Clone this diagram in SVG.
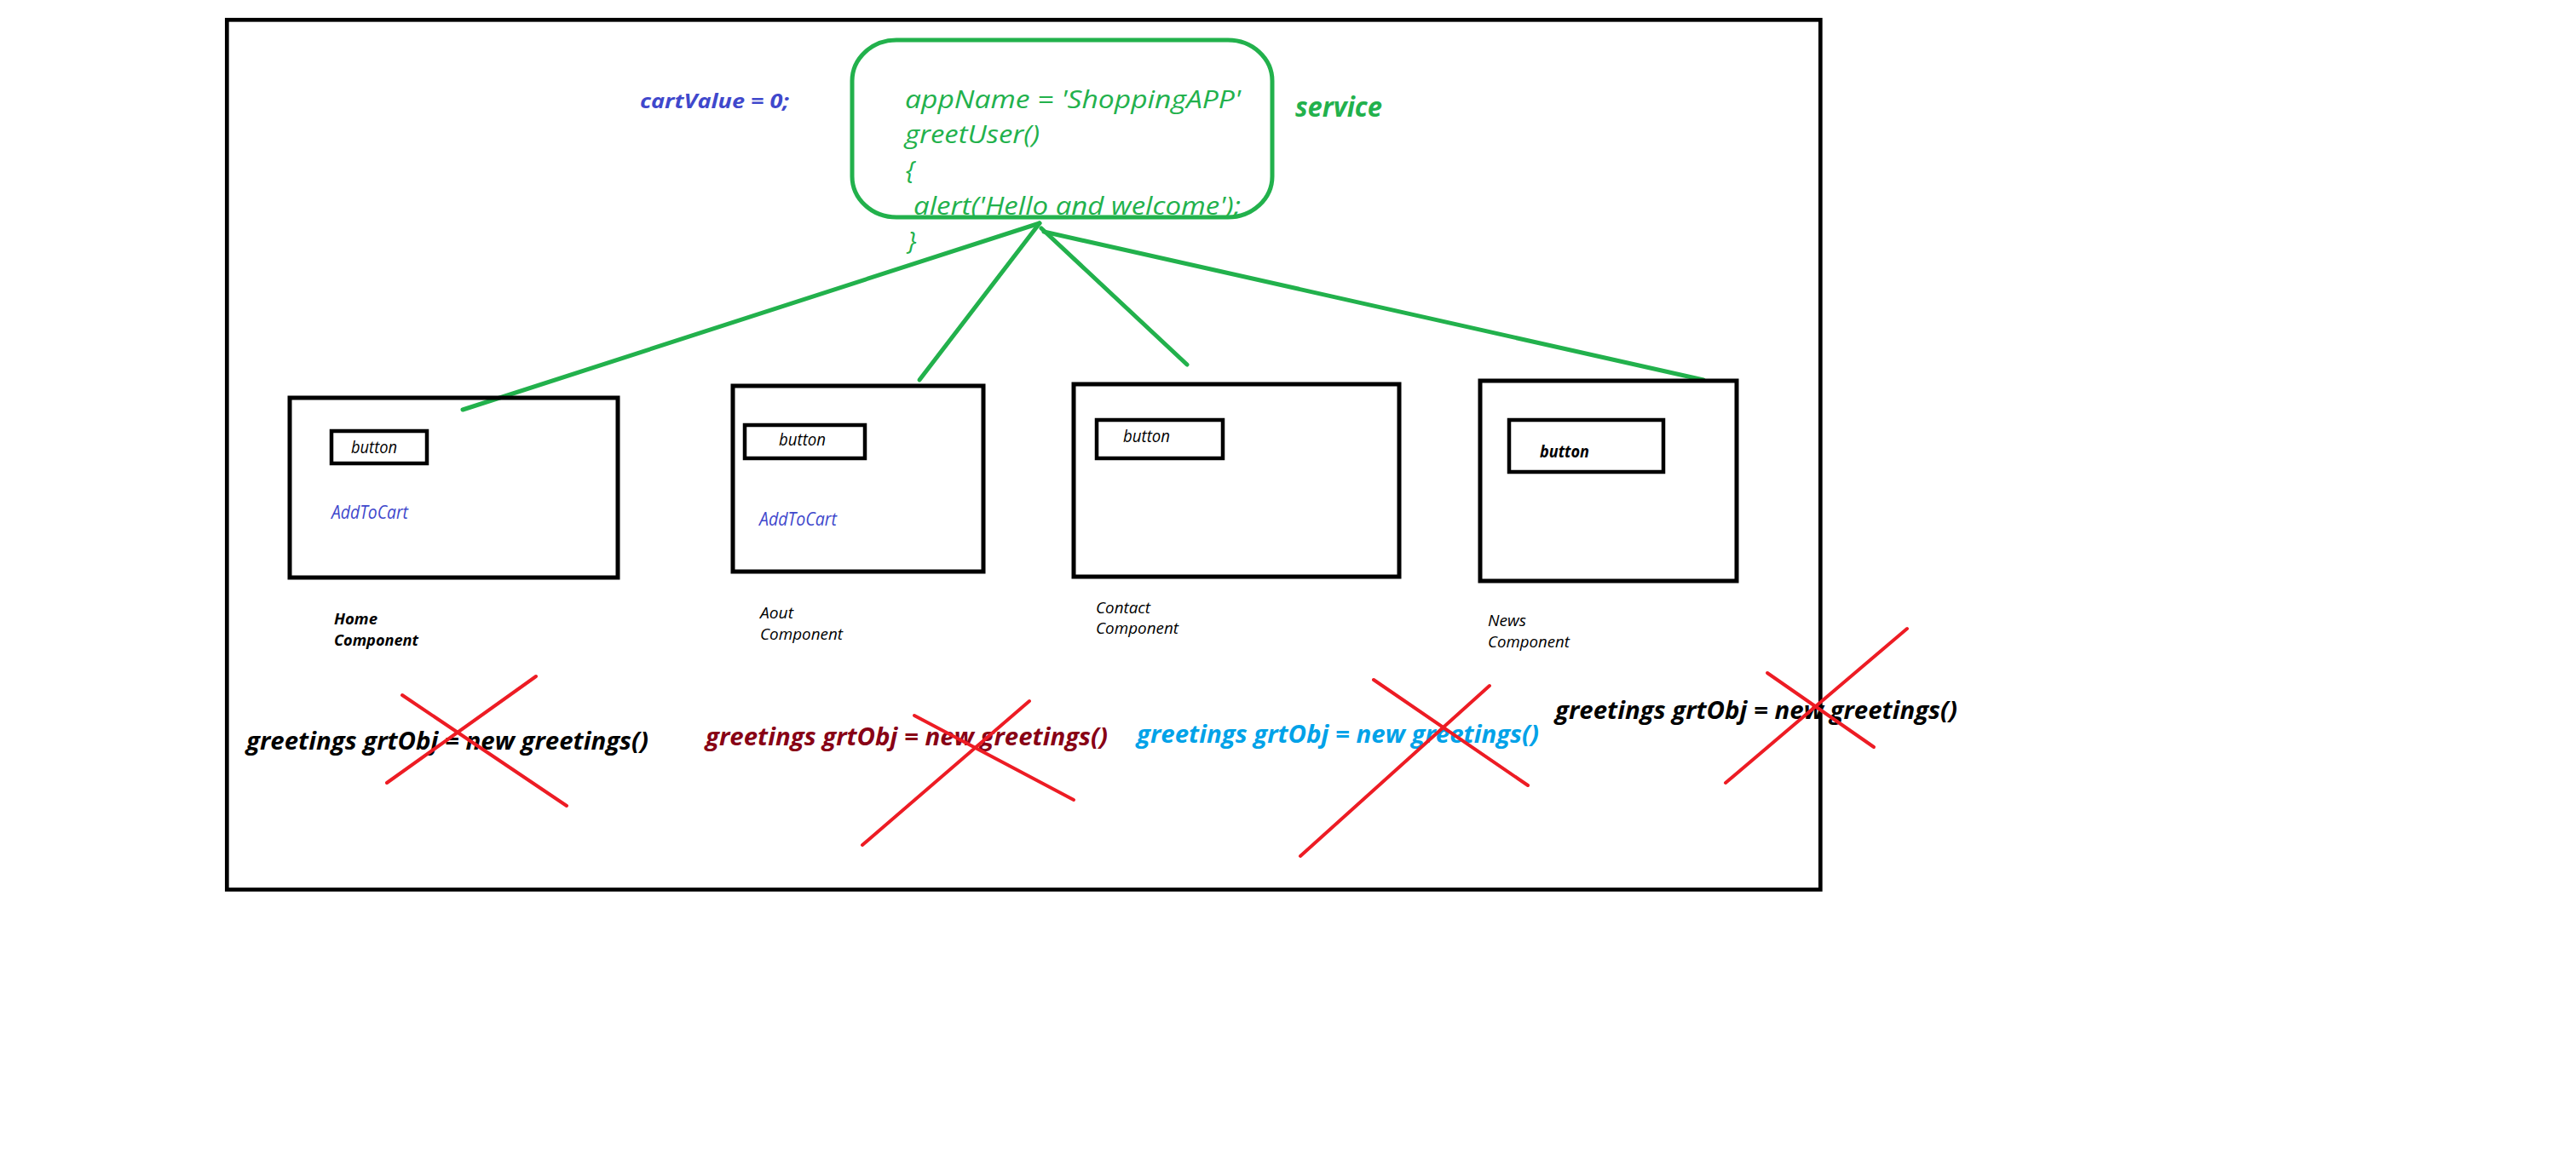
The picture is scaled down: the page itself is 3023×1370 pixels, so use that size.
<svg xmlns="http://www.w3.org/2000/svg" width="3023" height="1370" viewBox="0 0 3023 1370">
<style>
text{font-family:"Open Sans","Noto Sans","DejaVu Sans",sans-serif;font-style:italic}
.b{font-weight:bold}
.g{fill:#22b14c}
.blue{fill:#3f48cc}
.box{fill:none;stroke:#000;stroke-width:5}
.btn{fill:none;stroke:#000;stroke-width:4.5}
.conn{stroke:#22b14c;stroke-width:5;stroke-linecap:round;fill:none}
.x{stroke:#ed1c24;stroke-width:4;stroke-linecap:round}
.code{font-size:30px}
.btxt{font-size:20px;fill:#000}
.lbl{font-size:18px;fill:#000}
.atc{font-size:21px}
.gr{font-size:28px;font-weight:bold}
</style>
<rect width="3023" height="1370" fill="#fff"/>
<rect id="frame" x="266.3" y="23.3" width="1870" height="1021" fill="none" stroke="#000" stroke-width="4.7"/>

<g id="service">
<rect x="1000" y="47" width="493" height="208" rx="52" ry="48" fill="none" stroke="#22b14c" stroke-width="5"/>
<text class="code g" x="1062" y="127" textLength="394" lengthAdjust="spacingAndGlyphs">appName = 'ShoppingAPP'</text>
<text class="code g" x="1062" y="168" textLength="158" lengthAdjust="spacingAndGlyphs">greetUser()</text>
<text class="code g" x="1063" y="210">{</text>
<text class="code g" x="1072" y="252" textLength="384" lengthAdjust="spacingAndGlyphs">alert('Hello and welcome');</text>
<text class="code g" x="1065" y="293">}</text>
</g>
<g id="service-label"><text class="b g" x="1520" y="137" font-size="32" textLength="102" lengthAdjust="spacingAndGlyphs">service</text></g>
<g id="cartValue"><text class="b blue" x="751" y="127" font-size="23" textLength="175" lengthAdjust="spacingAndGlyphs">cartValue = 0;</text></g>

<g id="connectors">
<line class="conn" x1="1220" y1="262" x2="543" y2="481"/>
<line class="conn" x1="1220" y1="262" x2="1079" y2="446"/>
<line class="conn" x1="1222" y1="268" x2="1393" y2="428"/>
<line class="conn" x1="1225" y1="272" x2="1999" y2="446"/>
</g>

<g id="home">
<rect class="box" x="340" y="467" width="385" height="211"/>
<rect class="btn" x="389" y="506" width="112" height="38"/>
<text class="btxt" x="412" y="532" textLength="54" lengthAdjust="spacingAndGlyphs">button</text>
<text class="atc blue" x="389" y="609" textLength="90" lengthAdjust="spacingAndGlyphs">AddToCart</text>
<text class="lbl b" x="392" y="733" textLength="51" lengthAdjust="spacingAndGlyphs">Home</text>
<text class="lbl b" x="392" y="758" textLength="99" lengthAdjust="spacingAndGlyphs">Component</text>
</g>

<g id="about">
<rect class="box" x="860" y="453" width="294" height="218"/>
<rect class="btn" x="874" y="499" width="141" height="39"/>
<text class="btxt" x="914" y="523" textLength="55" lengthAdjust="spacingAndGlyphs">button</text>
<text class="atc blue" x="891" y="617" textLength="91" lengthAdjust="spacingAndGlyphs">AddToCart</text>
<text class="lbl" x="892" y="726" textLength="39" lengthAdjust="spacingAndGlyphs">Aout</text>
<text class="lbl" x="892" y="751" textLength="97" lengthAdjust="spacingAndGlyphs">Component</text>
</g>

<g id="contact">
<rect class="box" x="1260" y="451" width="382" height="226"/>
<rect class="btn" x="1287" y="493" width="148" height="45"/>
<text class="btxt" x="1318" y="519" textLength="55" lengthAdjust="spacingAndGlyphs">button</text>
<text class="lbl" x="1286" y="720" textLength="64" lengthAdjust="spacingAndGlyphs">Contact</text>
<text class="lbl" x="1286" y="744" textLength="97" lengthAdjust="spacingAndGlyphs">Component</text>
</g>

<g id="news">
<rect class="box" x="1737" y="447" width="301" height="235"/>
<rect class="btn" x="1771" y="493" width="181" height="61"/>
<text class="btxt b" x="1807" y="537" textLength="58" lengthAdjust="spacingAndGlyphs">button</text>
<text class="lbl" x="1746" y="735" textLength="45" lengthAdjust="spacingAndGlyphs">News</text>
<text class="lbl" x="1746" y="760" textLength="96" lengthAdjust="spacingAndGlyphs">Component</text>
</g>

<g id="greetings-1">
<text class="gr" x="289" y="880" fill="#000" textLength="472" lengthAdjust="spacingAndGlyphs">greetings grtObj = new greetings()</text>
<line class="x" x1="472" y1="816" x2="665" y2="946"/>
<line class="x" x1="629" y1="794" x2="454" y2="919"/>
</g>
<g id="greetings-2">
<text class="gr" x="828" y="875" fill="#880015" textLength="472" lengthAdjust="spacingAndGlyphs">greetings grtObj = new greetings()</text>
<line class="x" x1="1073" y1="840" x2="1260" y2="939"/>
<line class="x" x1="1208" y1="823" x2="1012" y2="992"/>
</g>
<g id="greetings-3">
<text class="gr" x="1334" y="872" fill="#00a2e8" textLength="472" lengthAdjust="spacingAndGlyphs">greetings grtObj = new greetings()</text>
<line class="x" x1="1612" y1="798" x2="1793" y2="922"/>
<line class="x" x1="1748" y1="805" x2="1526" y2="1005"/>
</g>
<g id="greetings-4">
<text class="gr" x="1825" y="844" fill="#000" textLength="472" lengthAdjust="spacingAndGlyphs">greetings grtObj = new greetings()</text>
<line class="x" x1="2074" y1="790" x2="2199" y2="877"/>
<line class="x" x1="2238" y1="738" x2="2025" y2="919"/>
</g>
</svg>
